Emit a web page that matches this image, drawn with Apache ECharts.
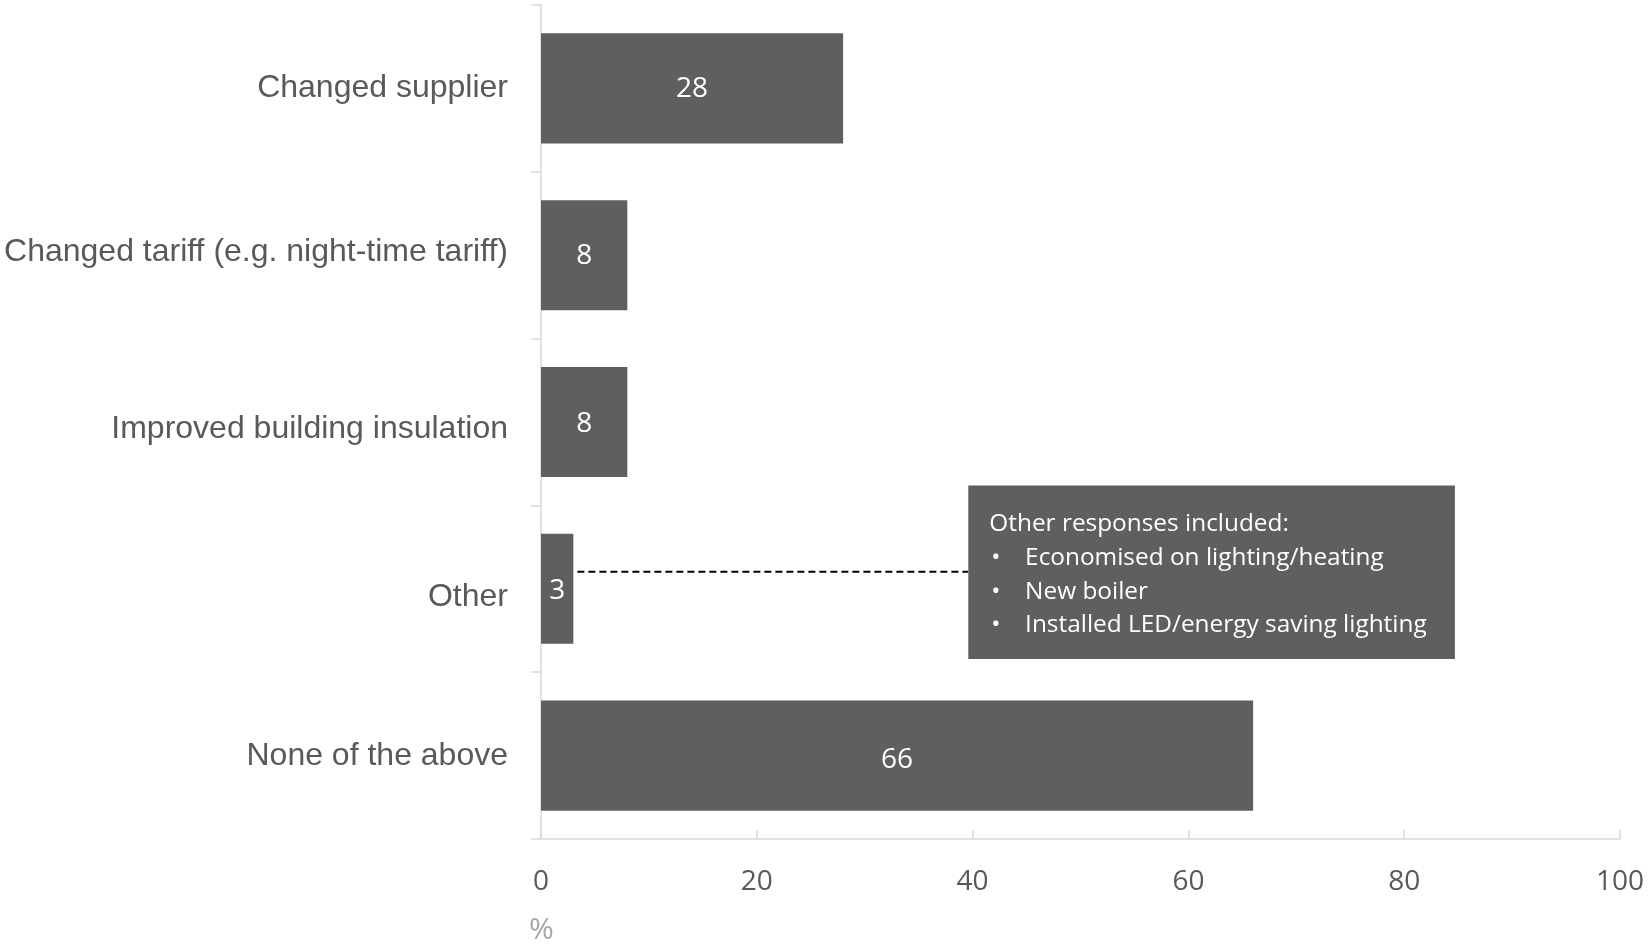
<!DOCTYPE html>
<html>
<head>
<meta charset="utf-8">
<script src="https://cdn.jsdelivr.net/npm/echarts@6/dist/echarts.min.js"></script>
<style>
html,body{margin:0;padding:0;background:#fff;}
#chart{width:1651px;height:944px;}
</style>
</head>
<body>
<div id="chart"></div>
<script>
// ---- data ----
const categories = ['Changed supplier', 'Changed tariff (e.g. night-time tariff)', 'Improved building insulation', 'Other', 'None of the above'];
const values = [28, 8, 8, 3, 66];
const xTicks = [0, 20, 40, 60, 80, 100];
const axisUnit = '%';
const noteTitle = 'Other responses included:';
const noteItems = ['Economised on lighting/heating', 'New boiler', 'Installed LED/energy saving lighting'];
const noteCategory = 'Other';
const noteRange = [39.6, 84.7]; // value-axis extent of the note box

// ---- style nudges (pixels) ----
const catLabelNudge = [0, -3, 7.4, 8.4, 1];
const valLabelNudge = [1, 1, 2, 2, 4];

const chart = echarts.init(document.getElementById('chart'), null, {renderer: 'canvas'});
const grey = '#5f5f5f';
const txt = '#595959';
const axisCol = '#d9d9d9';

const rich = {};
catLabelNudge.forEach((d, i) => {
  rich['c' + i] = {
    fontFamily: 'Liberation Sans', fontSize: 32, color: txt,
    padding: d >= 0 ? [2 * d, 0, 0, 0] : [0, 0, -2 * d, 0]
  };
});
const barData = values.map((v, i) => ({value: v, label: {offset: [0, valLabelNudge[i]]}}));

chart.setOption({
  animation: false,
  backgroundColor: '#ffffff',
  title: {
    text: axisUnit, left: 524, top: 910,
    textStyle: {fontFamily: 'Open Sans', fontSize: 30, fontWeight: 'normal', color: '#a6a6a6'}
  },
  grid: {left: 541, right: 31, top: 5, bottom: 105, containLabel: false},
  xAxis: {
    type: 'value', min: xTicks[0], max: xTicks[xTicks.length - 1], interval: 20,
    axisLine: {show: true, lineStyle: {color: axisCol, width: 1.5}},
    axisTick: {show: true, inside: true, length: 9, lineStyle: {color: axisCol, width: 1.5}},
    splitLine: {show: false},
    axisLabel: {fontFamily: 'Open Sans', fontSize: 28, color: txt, margin: 29}
  },
  yAxis: {
    type: 'category', inverse: true, data: categories,
    axisLine: {show: true, lineStyle: {color: axisCol, width: 1.5}},
    axisTick: {show: true, inside: false, length: 10, lineStyle: {color: axisCol, width: 1.5}},
    axisLabel: {
      fontFamily: 'Liberation Sans', fontSize: 32, color: txt, margin: 33,
      formatter: (v, i) => '{c' + categories.indexOf(v) + '|' + v + '}',
      rich: rich
    }
  },
  series: [{
    type: 'bar', data: barData, barCategoryGap: '34%',
    itemStyle: {color: grey},
    label: {show: true, position: 'inside', color: '#ffffff', fontFamily: 'Open Sans', fontSize: 28}
  }]
});

// annotation anchored to the "Other" bar in data space
const barEnd = chart.convertToPixel({gridIndex: 0}, [values[categories.indexOf(noteCategory)], noteCategory]);
const boxL = chart.convertToPixel({gridIndex: 0}, [noteRange[0], noteCategory]);
const boxR = chart.convertToPixel({gridIndex: 0}, [noteRange[1], noteCategory]);
const cy = barEnd[1];
const boxTop = cy - 103.4;
const boxH = 173.7;
const lineY = cy - 17;
const tStyle = {fill: '#ffffff', fontFamily: 'Open Sans', fontSize: 24.4, verticalAlign: 'middle', align: 'left'};
const elements = [
  {type: 'line', shape: {x1: barEnd[0] + 4, y1: lineY, x2: boxL[0], y2: lineY},
   style: {stroke: '#000', lineWidth: 2, lineDash: [7, 4]}, z: 10},
  {type: 'rect', shape: {x: boxL[0], y: boxTop, width: boxR[0] - boxL[0], height: boxH},
   style: {fill: grey}, z: 11},
  {type: 'text', x: boxL[0] + 21, y: boxTop + 38.6, style: Object.assign({text: noteTitle}, tStyle), z: 12}
];
noteItems.forEach((t, i) => {
  const y = boxTop + 72.6 + i * 33.7;
  elements.push({type: 'text', x: boxL[0] + 23, y: y, style: Object.assign({text: '•'}, tStyle), z: 12});
  elements.push({type: 'text', x: boxL[0] + 56.8, y: y, style: Object.assign({text: t}, tStyle), z: 12});
});
chart.setOption({graphic: {elements: elements}});
</script>
</body>
</html>
